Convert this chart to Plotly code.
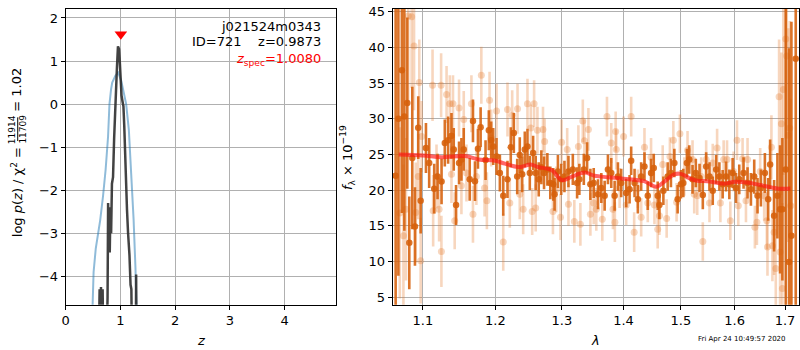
import plotly.graph_objects as go

# ---------------- left panel: p(z) ----------------
z_chi = [0.60, 0.62, 0.63, 0.645, 0.66, 0.675, 0.69, 0.74, 0.765, 0.775, 0.785, 0.795, 0.805,
         0.815, 0.83, 0.845, 0.865, 0.885, 0.91, 0.935, 0.955, 0.975, 0.99, 1.005, 1.02, 1.04,
         1.055, 1.07, 1.09, 1.105, 1.12, 1.14, 1.165, 1.185, 1.2, 1.215, 1.28, 1.287, 1.295]
logp_chi = [-6, -4.3, -6, -4.25, -6, -4.3, -6, -6, -4.5, -2.3, -3.4, -2.4, -3.45,
            -2.6, -3.0, -1.85, -1.7, -0.8, 0.2, 0.8, 1.34, 1.28, 0.95, 0.5, 0.2, 0.05,
            -0.05, -0.5, -1.4, -2.35, -2.45, -3.0, -3.5, -4.2, -4.3, -6, -6, -3.96, -6]

z_pz = [0.46, 0.484, 0.51, 0.55, 0.59, 0.63, 0.683, 0.73, 0.774, 0.80, 0.83, 0.85, 0.91,
        0.96, 1.015, 1.06, 1.105, 1.154, 1.196, 1.24, 1.275, 1.30, 1.32]
logp_pz = [-6, -4.66, -3.9, -3.35, -3.04, -2.7, -2.13, -1.52, -0.76, 0.0, 0.35, 0.5, 0.66,
           0.73, 0.54, 0.3, 0.0, -0.6, -1.52, -2.66, -3.81, -4.66, -6]

z_spec = 1.0080
z_best = 0.9873
spec_marker_y = 1.62

# ---------------- right panel: spectrum ----------------
wave_a = [1.0645, 1.068, 1.0725, 1.0757, 1.0795, 1.0821, 1.086, 1.0895, 1.0938, 1.097,
          1.104, 1.1083, 1.115, 1.1195, 1.1249, 1.1293, 1.1338, 1.1384, 1.1415, 1.1447,
          1.1488, 1.1521, 1.1553, 1.1636, 1.1682, 1.171, 1.1752, 1.179, 1.186, 1.1907,
          1.1941, 1.197, 1.2018, 1.2066, 1.2115, 1.2177, 1.2225, 1.227, 1.232, 1.2358,
          1.2394, 1.2433, 1.2473, 1.2508, 1.2558, 1.2597, 1.2643, 1.2683, 1.2724, 1.2775,
          1.282, 1.2866, 1.2886, 1.2938, 1.2989, 1.304, 1.3103, 1.3172, 1.324, 1.3276,
          1.3347, 1.34, 1.3453, 1.3507, 1.3577, 1.3631, 1.3686, 1.374, 1.3795, 1.3851,
          1.3906, 1.3961, 1.4045, 1.4102, 1.4129, 1.4187, 1.4243, 1.43, 1.4357, 1.4414,
          1.4471, 1.4518, 1.4587, 1.4617, 1.4687, 1.4763, 1.4821, 1.4882, 1.4941, 1.5,
          1.5043, 1.5108, 1.5151, 1.5211, 1.5271, 1.5339, 1.54, 1.5462, 1.5524, 1.5585,
          1.5649, 1.571, 1.5772, 1.5836, 1.5899, 1.5962, 1.6027, 1.609, 1.6173, 1.6251,
          1.6317, 1.6382, 1.6447, 1.6514, 1.6593, 1.6659, 1.6698, 1.6778, 1.6845, 1.6899,
          1.6946, 1.7015, 1.7083, 1.7131, 1.722]
flux_a = [22, 30, 36.8, 30.3, 32.2, 12.6, 24.5, 14.9, 28.75, 18.5,
          25.9, 23.8, 20.2, 21.9, 21.2, 26.6, 27, 27.6, 25.7, 17.9,
          23.8, 24.3, 25.7, 21.5, 29.7, 21.25, 25.8, 28.8, 24.2, 28.4,
          27, 26.1, 24.7, 22.4, 19.2, 21.5, 26, 28, 21.9, 24.9,
          22.2, 25.7, 26.1, 22.4, 25.2, 22.4, 21.5, 23.2, 22.4, 22.9,
          21, 20.8, 19.4, 22.6, 21.5, 21.9, 22.6, 22.9, 21, 21.5,
          22.9, 24.5, 20.8, 21, 19.4, 20.3, 19.2, 22.9, 22.4, 19.2,
          21.9, 21, 19.6, 20.1, 24.1, 21, 18.7, 21.9, 23.3, 19.2,
          22.4, 23.1, 19.2, 17.9, 19.9, 21.9, 22.4, 23.8, 18.7, 20.8,
          21, 23.8, 24.3, 21.5, 22.4, 21.7, 19.3, 23.3, 21.9, 19.9,
          22.9, 21.9, 20.8, 21.9, 20.8, 22.4, 20.3, 21.5, 22.4, 21,
          20.1, 21.9, 19.2, 20.3, 22.4, 18.7, 23.6, 16.4, 19.2, 17.3,
          17.3, 22.9, 9.9, 13.6, 38.4]
err_a = [28, 22, 20, 16, 12, 6.5, 10, 5.5, 4.4, 4.6,
         3.5, 3.5, 3.5, 3.2, 3.2, 3.3, 3.3, 3.2, 3.0, 2.8,
         3.0, 3.0, 3.0, 3.0, 3.0, 2.8, 2.8, 2.8, 2.8, 2.8,
         2.6, 2.6, 2.6, 2.6, 2.8, 2.6, 2.8, 2.8, 2.5, 2.5,
         2.5, 2.5, 2.5, 2.4, 2.4, 2.4, 2.4, 2.4, 2.3, 2.3,
         2.3, 2.3, 2.3, 2.3, 2.2, 2.2, 2.2, 2.2, 2.2, 2.2,
         2.2, 2.2, 2.2, 2.1, 2.1, 2.1, 2.1, 2.1, 2.1, 2.1,
         2.0, 2.0, 2.0, 2.0, 2.0, 2.0, 2.0, 2.0, 2.0, 2.0,
         2.0, 2.0, 2.0, 2.0, 2.0, 2.0, 2.0, 2.0, 2.0, 2.0,
         2.0, 2.0, 2.0, 2.0, 2.0, 2.0, 2.0, 2.0, 2.0, 2.0,
         2.0, 2.0, 2.0, 2.1, 2.1, 2.1, 2.1, 2.1, 2.2, 2.2,
         2.3, 2.4, 2.5, 2.6, 2.8, 3.0, 3.5, 5.0, 6.0, 9.0,
         10, 25, 30, 30, 40]

wave_b = [1.0698, 1.0745, 1.0778, 1.0807, 1.0852, 1.0883, 1.0905, 1.0938, 1.0952, 1.097,
          1.0983, 1.1128, 1.1136, 1.1181, 1.1216, 1.1243, 1.1247, 1.1317, 1.1361, 1.1384,
          1.1405, 1.1428, 1.1488, 1.1521, 1.1553, 1.1591, 1.166, 1.1682, 1.173, 1.18,
          1.1846, 1.1879, 1.1917, 1.1941, 1.2018, 1.2115, 1.2177, 1.2211, 1.2246, 1.2325,
          1.2358, 1.2409, 1.2473, 1.2523, 1.2544, 1.2573, 1.2597, 1.2623, 1.2708, 1.2733,
          1.2861, 1.2912, 1.2978, 1.2995, 1.3083, 1.3103, 1.3196, 1.326, 1.3292, 1.3331,
          1.3357, 1.3421, 1.3453, 1.3507, 1.3549, 1.3647, 1.3724, 1.3795, 1.3823, 1.3855,
          1.3868, 1.3878, 1.3934, 1.4001, 1.4045, 1.4129, 1.418, 1.4243, 1.43, 1.4357,
          1.4414, 1.4471, 1.453, 1.4587, 1.4617, 1.4675, 1.4745, 1.4803, 1.4864, 1.4922,
          1.4982, 1.5061, 1.512, 1.5211, 1.5242, 1.5297, 1.537, 1.54, 1.5462, 1.5524,
          1.5585, 1.5667, 1.5729, 1.5791, 1.5855, 1.5918, 1.5981, 1.6046, 1.6071, 1.6154,
          1.622, 1.6251, 1.6395, 1.6435, 1.65, 1.6579, 1.6632, 1.6645, 1.6724, 1.6744,
          1.6778, 1.6812, 1.6879, 1.6899, 1.6926, 1.6946, 1.6966, 1.7015, 1.7035, 1.7068,
          1.7097, 1.7117]
flux_b = [16.8, 13.6, 17.3, 44.4, 44.3, 40.2, 16.85, 21.9, 35.1, 10.1,
          27.5, 34.7, 17.1, 21.9, 17.3, 34.7, 11.4, 33.4, 32.1, 22.2,
          32.1, 15.7, 31.5, 20.6, 29.9, 22.4, 32.1, 16.6, 21.9, 36.1,
          20.3, 18.5, 32.6, 27.3, 31.1, 12.7, 31.3, 18.2, 30.5, 31.4,
          19.4, 17.3, 32.1, 28.7, 17.0, 32.1, 17.5, 28.4, 28.5, 26.8,
          17.0, 20.1, 16.2, 26.7, 25.7, 18.0, 15.6, 26.1, 15.2, 29.7,
          26.9, 28.5, 16.6, 18.2, 17.3, 15.9, 30.3, 26.6, 17.3, 15.5,
          28.2, 25.7, 20.3, 27.5, 17.9, 30.3, 14.1, 20.2, 16.2, 26.0,
          18.2, 24.6, 17.9, 14.5, 16.4, 23.6, 16.0, 24.7, 27.0, 18.3,
          27.9, 21.9, 25.6, 24.3, 19.4, 19.2, 21.9, 12.8, 24.3, 18.2,
          23.8, 25.9, 18.2, 24.3, 24.3, 15.7, 22.6, 27.0, 17.8, 24.4,
          18.5, 24.3, 14.8, 15.5, 22.6, 19.2, 15.7, 12.0, 26.0, 12.2,
          14.1, 9.0, 33.1, 11.3, 29.3, 6.2, 34.1, 41.2, 38.8, 27.7,
          28.7, 17.8]
err_b = [12, 10, 10, 12, 10, 9, 7, 6, 6, 6,
         5, 5, 5, 4.5, 4.5, 4.5, 5, 4, 4, 4,
         4, 4, 4, 4, 4, 4, 4, 4, 4, 4,
         4, 4, 4, 4, 3.8, 4, 3.8, 3.5, 3.5, 3.5,
         3.5, 3.5, 3.5, 3.3, 3.3, 3.3, 3.3, 3.3, 3.2, 3.2,
         3.2, 3.2, 3.2, 3.2, 3.0, 3.0, 3.0, 3.0, 3.0, 3.0,
         3.0, 3.0, 3.0, 3.0, 3.0, 3.0, 2.8, 2.8, 2.8, 2.8,
         2.8, 2.8, 2.8, 2.8, 2.8, 2.8, 2.8, 2.7, 2.7, 2.7,
         2.7, 2.7, 2.7, 2.7, 2.7, 2.7, 2.7, 2.7, 2.7, 2.7,
         2.7, 2.7, 2.7, 2.7, 2.7, 2.7, 2.7, 2.7, 2.7, 2.7,
         2.7, 2.7, 2.7, 2.7, 2.7, 2.7, 2.8, 2.8, 2.8, 2.9,
         3.0, 3.0, 3.0, 3.2, 3.3, 3.5, 4.0, 4.0, 4.5, 5.0,
         6.0, 7.0, 8.0, 9.0, 10, 12, 12, 14, 14, 15,
         15, 15]

wave_model = [1.0685, 1.1, 1.125, 1.157, 1.176, 1.2, 1.214, 1.233, 1.24, 1.252, 1.263,
              1.284, 1.3, 1.315, 1.336, 1.352, 1.374, 1.4, 1.435, 1.456, 1.47, 1.488, 1.5,
              1.517, 1.53, 1.548, 1.579, 1.6, 1.624, 1.65, 1.684, 1.711]
flux_model = [25.0, 24.86, 24.6, 24.77, 24.3, 24.1, 23.7, 23.24, 23.3, 23.6, 23.24,
              22.8, 21.4, 21.85, 22.45, 22.0, 21.8, 21.6, 21.25, 20.46, 21.16, 22.2, 22.27,
              21.6, 21.3, 21.25, 20.9, 21.16, 21.06, 20.7, 20.23, 20.23]

lam_ticks = [1.1, 1.2, 1.3, 1.4, 1.5, 1.6, 1.7]
lam_ticktext = ["1.1", "1.2", "1.3", "1.4", "1.5", "1.6", "1.7"]

FONT = "DejaVu Sans"
W, H = 800, 350


def px(x):
    return x / W


def py(y):
    return 1 - y / H


fig = go.Figure()

fig.add_trace(go.Scatter(x=z_pz, y=logp_pz, mode="lines",
                         line=dict(color="rgba(31,119,180,0.5)", width=2),
                         xaxis="x", yaxis="y", showlegend=False))
fig.add_trace(go.Scatter(x=z_chi, y=logp_chi, mode="lines",
                         line=dict(color="rgba(45,45,45,0.9)", width=2.5),
                         xaxis="x", yaxis="y", showlegend=False))
fig.add_trace(go.Scatter(x=[z_spec], y=[spec_marker_y], mode="markers",
                         marker=dict(symbol="triangle-down", color="red", size=11),
                         xaxis="x", yaxis="y", showlegend=False))

light = "rgba(228,118,40,0.3)"
dark = "rgba(214,96,10,0.88)"
fig.add_trace(go.Scatter(x=wave_b, y=flux_b, mode="markers",
                         marker=dict(color=light, size=7),
                         error_y=dict(type="data", array=err_b, color=light, thickness=2.6, width=0),
                         xaxis="x2", yaxis="y2", showlegend=False))
fig.add_trace(go.Scatter(x=wave_a, y=flux_a, mode="markers",
                         marker=dict(color=dark, size=6.5),
                         error_y=dict(type="data", array=err_a, color=dark, thickness=2.6, width=0),
                         xaxis="x2", yaxis="y2", showlegend=False))
fig.add_trace(go.Scatter(x=wave_model, y=flux_model, mode="lines",
                         line=dict(color="rgba(255,20,20,0.65)", width=4, shape="spline"),
                         xaxis="x2", yaxis="y2", showlegend=False))

axis_common = dict(showgrid=True, gridcolor="#b0b0b0", gridwidth=1, zeroline=False,
                   showline=True, linecolor="black", linewidth=1, mirror=True,
                   ticks="outside", ticklen=4, tickcolor="black", tickwidth=1,
                   ticklabeloverflow="allow",
                   tickfont=dict(family=FONT, size=13, color="black"))

fig.update_layout(
    width=W, height=H,
    margin=dict(l=0, r=0, t=0, b=0),
    paper_bgcolor="white", plot_bgcolor="white",
    font=dict(family=FONT, size=13, color="black"),
    xaxis=dict(domain=[px(62), px(334)], range=[0, 4.945], tickvals=[0, 1, 2, 3, 4],
               anchor="y", **axis_common),
    yaxis=dict(domain=[py(304), py(4)], range=[-4.66, 2.21], tickvals=[-4, -3, -2, -1, 0, 1, 2],
               ticktext=["\u22124", "\u22123", "\u22122", "\u22121", "0", "1", "2"],
               anchor="x", **axis_common),
    xaxis2=dict(domain=[px(390.7), px(799.3)], type="log", range=[0.02563, 0.2379],
                tickvals=lam_ticks, ticktext=lam_ticktext, anchor="y2", **axis_common),
    yaxis2=dict(domain=[py(304), py(4)], range=[3.93, 45.4],
                tickvals=[5, 10, 15, 20, 25, 30, 35, 40, 45], anchor="x2", **axis_common),
)

ann = []


def add(text, x, y, size=13, color="black", angle=0, xanchor="center", yanchor="middle"):
    ann.append(dict(text=text, x=px(x), y=py(y), xref="paper", yref="paper",
                    showarrow=False, textangle=angle, xanchor=xanchor, yanchor=yanchor,
                    font=dict(family=FONT, size=size, color=color)))


# left panel labels
add("j021524m0343", 321, 22, xanchor="right")
add("ID=721    z=0.9873", 321, 37, xanchor="right")
add("<i>z</i><sub>spec</sub>=1.0080", 321, 55, color="red", xanchor="right")
add("<i>z</i>", 198, 340)
add("log <i>p</i>(<i>z</i>) / \u03c7<sup>2</sup> =", 13, 190, angle=-90)
add("11914", 8, 126, size=9, angle=-90)
add("11709", 19.5, 126, size=9, angle=-90)
add("= 1.02", 13, 86, angle=-90)

# right panel labels
add("<i>\u03bb</i>", 594, 340)
add("<i>f</i><sub>\u03bb</sub> \u00d7 10<sup>\u221219</sup>", 345, 155, angle=-90)
add("Fri Apr 24 10:49:57 2020", 788, 339, size=7, xanchor="right")

fig.update_layout(annotations=ann)
fig.add_shape(type="line", xref="paper", yref="paper",
              x0=px(13.8), x1=px(13.8), y0=py(114), y1=py(138),
              line=dict(color="black", width=1))

fig.write_html("out.html")
